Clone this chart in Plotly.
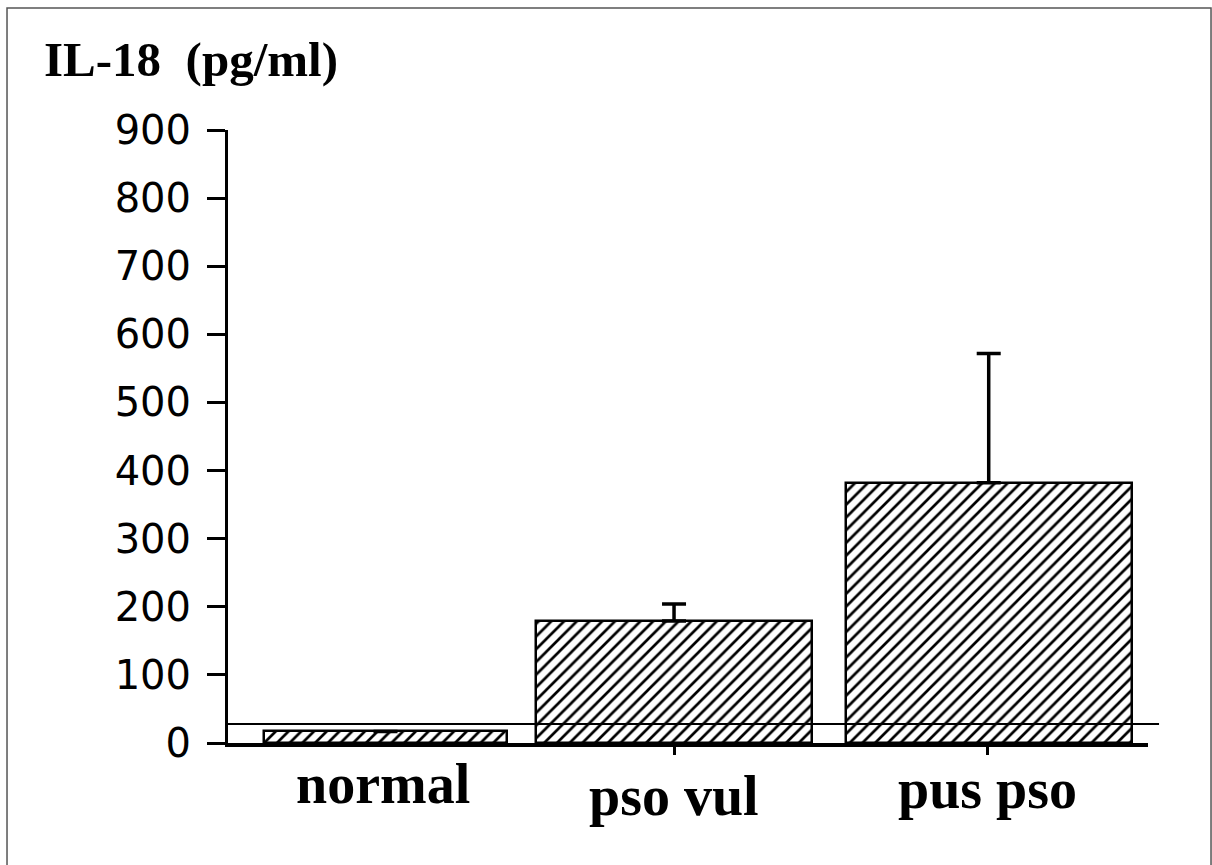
import plotly.graph_objects as go

# ---- data ----
categories = ["normal", "pso vul", "pus pso"]
il18_mean = [17, 179, 382]
il18_err_plus = [0, 25, 190]
detection_limit = 28
y_ticks = [0, 100, 200, 300, 400, 500, 600, 700, 800, 900]
y_title = "IL-18\u00a0\u00a0(pg/ml)"

# ---- layout geometry (styling) ----
W, H = 1212, 865
ML, MR, MT, MB = 228, 64, 130, 122
bar_offsets = [-0.3047, -0.4404, -0.4532]
bar_widths = [0.772, 0.881, 0.911]

fig = go.Figure()
fig.add_trace(go.Bar(
    x=categories,
    y=il18_mean,
    offset=bar_offsets,
    width=bar_widths,
    marker=dict(
        color="white",
        line=dict(color="black", width=2.5),
        pattern=dict(shape="/", fgcolor="black", bgcolor="white",
                     size=9, solidity=0.3, fillmode="replace"),
    ),
    error_y=dict(type="data", symmetric=False, array=il18_err_plus,
                 arrayminus=[0, 0, 0], color="black", thickness=3.5, width=12),
    showlegend=False,
))

# detection-limit reference line
fig.add_shape(type="line", xref="paper", yref="y",
              x0=0, x1=1.012, y0=detection_limit, y1=detection_limit,
              line=dict(color="black", width=2), layer="above")

# outer frame
fig.add_shape(type="rect", xref="paper", yref="paper",
              x0=-0.2402, x1=1.0685, y0=-0.25, y1=1.199,
              line=dict(color="#555555", width=1.5), layer="below")

label_font = dict(family="Liberation Serif", size=56, color="black", weight="bold")
label_shifts = [(23, -8), (0, -20), (0, -13)]
for cat, (dx, dy) in zip(categories, label_shifts):
    fig.add_annotation(x=cat, xref="x", y=0, yref="paper",
                       text=cat, showarrow=False, xanchor="center",
                       yanchor="top", xshift=dx, yshift=dy, font=label_font)

fig.add_annotation(x=-0.2022, xref="paper", y=1.1630, yref="paper",
                   text=y_title, showarrow=False, xanchor="left", yanchor="top",
                   font=dict(family="Liberation Serif", size=49, color="black",
                             weight="bold"))

fig.update_layout(
    width=W, height=H,
    margin=dict(l=ML, r=MR, t=MT, b=MB, pad=0),
    paper_bgcolor="white", plot_bgcolor="white",
    bargap=0,
    xaxis=dict(type="category", categoryorder="array", categoryarray=categories,
               range=[-0.4204, 2.5096], showline=True, linecolor="black",
               linewidth=4, ticks="outside", ticklen=8, tickwidth=3,
               tickcolor="black", tickvals=["pso vul", "pus pso"],
               showticklabels=False, showgrid=False, zeroline=False),
    yaxis=dict(range=[0, 900], tickvals=y_ticks, showline=True,
               linecolor="black", linewidth=3, ticks="outside", ticklen=18,
               tickwidth=3, tickcolor="black", showgrid=False, zeroline=False,
               ticklabelstandoff=8,
               tickfont=dict(family="DejaVu Sans", size=40, color="black")),
)

fig.write_html("out.html", config={"displayModeBar": False},
               post_script="document.body.style.margin='0';")
